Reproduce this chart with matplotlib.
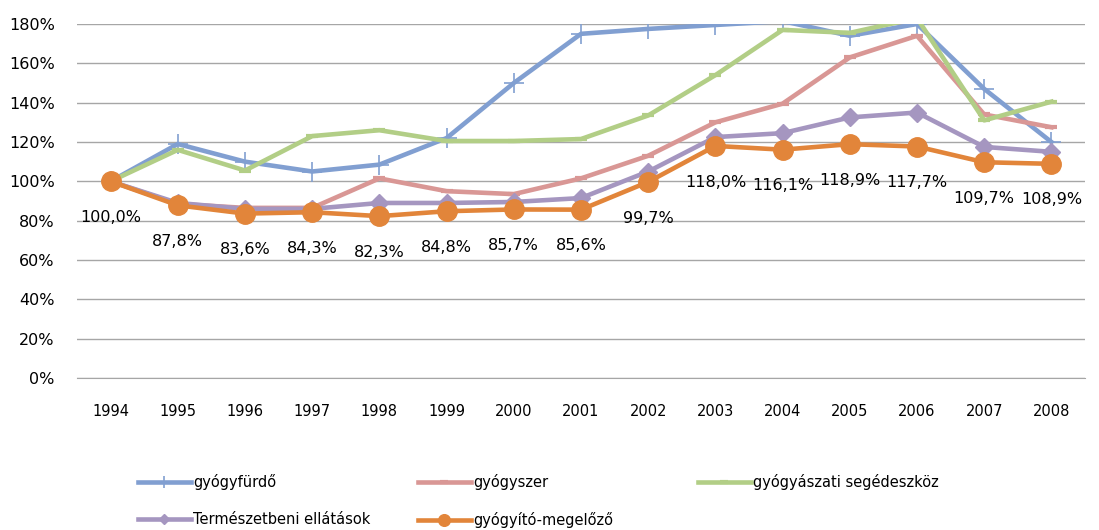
import matplotlib.pyplot as plt

# adatok (1994 = 100%)
years = ['1994', '1995', '1996', '1997', '1998', '1999', '2000', '2001',
         '2002', '2003', '2004', '2005', '2006', '2007', '2008']
gyogyfurdo = [100, 119, 110, 105, 108.5, 122, 150, 175, 177.5, 179.5, 181.5, 174, 180, 147, 120]
gyogyszer = [100, 88.5, 86.5, 86.5, 101.5, 95, 93.5, 101.5, 113, 130, 139.5, 163, 174, 134, 127.5]
segedeszkoz = [100, 116, 105.5, 123, 126, 120.5, 120.5, 121.5, 133.5, 154, 177, 175.5, 183, 131, 140.5]
termeszetbeni = [100, 89, 86, 86, 89, 89, 89.5, 91.5, 105, 122.5, 124.5, 132.5, 135, 117.5, 115]
megelozo = [100.0, 87.8, 83.6, 84.3, 82.3, 84.8, 85.7, 85.6, 99.7, 118.0, 116.1, 118.9, 117.7, 109.7, 108.9]

names = ['gyógyfürdő', 'gyógyszer', 'gyógyászati segédeszköz',
         'Természetbeni ellátások', 'gyógyító-megelőző']

fig = plt.figure(figsize=(10.99, 5.30), dpi=100)
ax = fig.add_axes([77/1099, 1-378/530, (1085-77)/1099, (378-24)/530])

x = range(len(years))
lw = 3.3
h1, = ax.plot(x, gyogyfurdo, color='#819FD1', lw=lw, marker='+', ms=14, mew=1.2)
h2, = ax.plot(x, gyogyszer, color='#D99795', lw=lw, marker='_', ms=9, mew=3)
h3, = ax.plot(x, segedeszkoz, color='#B2CE86', lw=lw, marker='_', ms=9, mew=3)
h4, = ax.plot(x, termeszetbeni, color='#A596C0', lw=lw, marker='D', ms=9)
h5, = ax.plot(x, megelozo, color='#E2853A', lw=lw, marker='o', ms=14)

# adatfeliratok a narancs vonalon
for i, v in enumerate(megelozo):
    ax.annotate(('%.1f%%' % v).replace('.', ','), (i, v), xytext=(0, -26),
                textcoords='offset points', ha='center', va='center',
                fontsize=11.5, color='black', annotation_clip=False)

ax.set_xlim(-0.5, len(years) - 0.5)
ax.set_ylim(0, 180)
ax.set_yticks(range(0, 181, 20))
ax.set_yticklabels(['%d%%' % t for t in range(0, 181, 20)], fontsize=11.5)
ax.set_xticks(list(x))
ax.set_xticklabels(years, fontsize=10.5)
ax.tick_params(axis='x', length=0, pad=19)
ax.tick_params(axis='y', length=0, pad=16)
ax.grid(axis='y', color='#A6A6A6', lw=1)
ax.set_axisbelow(True)
for s in ['top', 'right', 'left']:
    ax.spines[s].set_visible(False)
ax.spines['bottom'].set_color('#A6A6A6')

# jelmagyarázat: három oszlop, egyenlő szélességgel
cols = [([h1, h4], [names[0], names[3]]),
        ([h2, h5], [names[1], names[4]]),
        ([h3], [names[2]])]
for k, (hs, ls) in enumerate(cols):
    leg = fig.legend(hs, ls, loc='upper left',
                     bbox_to_anchor=((138 + 280*k)/1099, 1-474/530),
                     frameon=False, fontsize=10.5, handlelength=3.6,
                     handletextpad=0.2, labelspacing=1.5, borderpad=0,
                     borderaxespad=0, markerscale=0.6)

fig.savefig('out.png', dpi=100)
